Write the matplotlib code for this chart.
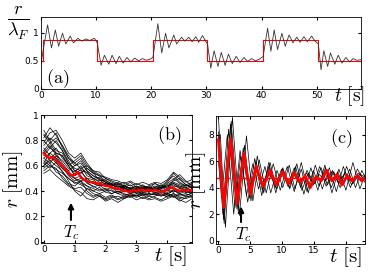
import matplotlib
matplotlib.use("Agg")
import matplotlib.pyplot as plt

plt.rcParams['mathtext.fontset'] = 'cm'
plt.rcParams['font.size'] = 6.5
plt.rcParams['xtick.direction'] = 'in'
plt.rcParams['ytick.direction'] = 'in'
plt.rcParams['xtick.top'] = True
plt.rcParams['ytick.right'] = True
plt.rcParams['xtick.major.size'] = 2
plt.rcParams['ytick.major.size'] = 2
plt.rcParams['axes.linewidth'] = 0.6

# ---- panel (a): step forcing and response ----
step_t = [0, 0.3, 0.3, 10.2, 10.2, 20.3, 20.3, 30.2, 30.2, 40.3, 40.3, 50.3, 50.3, 58]
step_r = [0.5, 0.5, 0.87, 0.87, 0.5, 0.5, 0.87, 0.87, 0.5, 0.5, 0.87, 0.87, 0.5, 0.5]

resp_t = [0, 0.5, 1.2, 1.9, 2.6, 3.2, 3.9, 4.5, 5.3, 5.9, 6.7, 7.4, 8.2, 8.8, 9.7, 10.2,
          10.9, 11.5, 12.3, 12.9, 13.6, 14.2, 14.9, 15.6, 16.3, 17.0, 17.7, 18.4, 19.1, 19.8, 20.3,
          21.2, 21.9, 22.6, 23.2, 24.1, 24.6, 25.5, 26.1, 26.8, 27.4, 28.1, 28.6, 29.3, 29.8, 30.2,
          30.8, 31.4, 32.1, 32.7, 33.4, 34.0, 34.7, 35.4, 36.1, 36.8, 37.5, 38.2, 38.9, 39.6, 40.3,
          41.1, 41.7, 42.3, 42.9, 43.7, 44.3, 45.0, 45.7, 46.4, 47.0, 47.7, 48.3, 49.1, 49.7, 50.3,
          50.8, 51.3, 52.0, 52.5, 53.3, 53.9, 54.6, 55.3, 56.0, 56.6, 57.3, 58.0]
resp_r = [0.45, 0.75, 1.14, 0.73, 1.05, 0.76, 0.99, 0.80, 0.94, 0.82, 0.90, 0.85, 0.89, 0.86, 0.90, 0.82,
          0.42, 0.60, 0.44, 0.60, 0.45, 0.58, 0.46, 0.56, 0.48, 0.55, 0.50, 0.54, 0.51, 0.53, 0.56,
          1.16, 0.64, 0.99, 0.73, 0.96, 0.80, 0.92, 0.85, 0.92, 0.84, 0.93, 0.83, 0.95, 0.86, 0.80,
          0.37, 0.68, 0.40, 0.65, 0.42, 0.62, 0.45, 0.58, 0.47, 0.56, 0.49, 0.54, 0.50, 0.53, 0.58,
          1.08, 0.67, 1.05, 0.70, 0.99, 0.76, 0.96, 0.82, 0.92, 0.83, 0.93, 0.84, 0.94, 0.85, 0.80,
          0.34, 0.68, 0.40, 0.64, 0.44, 0.60, 0.46, 0.56, 0.48, 0.54, 0.51, 0.52]

# ---- panel (b): individual runs and mean ----
tb = [0, 0.2, 0.4, 0.6, 0.8, 1.0, 1.2, 1.4, 1.6, 1.8, 2.0, 2.2, 2.4, 2.6, 2.8, 3.0,
      3.2, 3.4, 3.6, 3.8, 4.0, 4.2, 4.4, 4.6, 4.8]
runs_b = [
    [0.78, 0.86, 0.88, 0.80, 0.70, 0.66, 0.70, 0.62, 0.56, 0.55, 0.50, 0.48, 0.46, 0.44, 0.47, 0.43, 0.45, 0.42, 0.46, 0.44, 0.48, 0.52, 0.47, 0.44, 0.46],
    [0.62, 0.58, 0.63, 0.55, 0.50, 0.47, 0.45, 0.42, 0.40, 0.43, 0.39, 0.38, 0.40, 0.37, 0.38, 0.36, 0.39, 0.37, 0.38, 0.36, 0.39, 0.41, 0.37, 0.38, 0.36],
    [0.70, 0.76, 0.68, 0.64, 0.58, 0.55, 0.60, 0.52, 0.50, 0.47, 0.46, 0.44, 0.45, 0.42, 0.40, 0.42, 0.40, 0.41, 0.43, 0.40, 0.42, 0.45, 0.42, 0.40, 0.42],
    [0.85, 0.80, 0.72, 0.70, 0.62, 0.58, 0.56, 0.55, 0.50, 0.48, 0.49, 0.45, 0.43, 0.44, 0.41, 0.43, 0.41, 0.39, 0.42, 0.41, 0.40, 0.44, 0.43, 0.41, 0.40],
    [0.58, 0.62, 0.55, 0.52, 0.46, 0.44, 0.48, 0.40, 0.36, 0.38, 0.35, 0.37, 0.34, 0.36, 0.35, 0.37, 0.34, 0.36, 0.35, 0.33, 0.36, 0.38, 0.35, 0.34, 0.36],
    [0.66, 0.70, 0.74, 0.66, 0.60, 0.52, 0.55, 0.50, 0.49, 0.45, 0.44, 0.46, 0.41, 0.43, 0.39, 0.41, 0.43, 0.40, 0.42, 0.44, 0.43, 0.46, 0.44, 0.42, 0.43],
    [0.74, 0.68, 0.62, 0.58, 0.53, 0.50, 0.52, 0.46, 0.44, 0.41, 0.42, 0.40, 0.38, 0.40, 0.42, 0.38, 0.40, 0.42, 0.39, 0.40, 0.38, 0.40, 0.39, 0.41, 0.39],
    [0.60, 0.66, 0.70, 0.62, 0.56, 0.60, 0.64, 0.56, 0.52, 0.50, 0.47, 0.44, 0.46, 0.43, 0.45, 0.41, 0.43, 0.44, 0.41, 0.43, 0.45, 0.48, 0.50, 0.45, 0.43],
    [0.82, 0.90, 0.84, 0.76, 0.66, 0.62, 0.66, 0.58, 0.54, 0.52, 0.48, 0.46, 0.44, 0.42, 0.43, 0.40, 0.42, 0.44, 0.46, 0.42, 0.44, 0.47, 0.45, 0.43, 0.44],
    [0.56, 0.60, 0.58, 0.50, 0.45, 0.42, 0.43, 0.38, 0.35, 0.37, 0.33, 0.35, 0.36, 0.34, 0.37, 0.35, 0.37, 0.34, 0.36, 0.38, 0.35, 0.37, 0.34, 0.36, 0.35],
    [0.72, 0.64, 0.66, 0.60, 0.56, 0.50, 0.48, 0.50, 0.46, 0.44, 0.45, 0.42, 0.44, 0.41, 0.39, 0.40, 0.38, 0.40, 0.41, 0.39, 0.41, 0.43, 0.40, 0.39, 0.41],
    [0.68, 0.74, 0.80, 0.72, 0.64, 0.56, 0.58, 0.54, 0.50, 0.51, 0.47, 0.45, 0.43, 0.45, 0.42, 0.44, 0.42, 0.43, 0.40, 0.42, 0.44, 0.46, 0.43, 0.45, 0.42],
    [0.64, 0.60, 0.57, 0.54, 0.50, 0.46, 0.48, 0.44, 0.40, 0.38, 0.40, 0.41, 0.38, 0.36, 0.38, 0.39, 0.37, 0.38, 0.37, 0.36, 0.38, 0.36, 0.32, 0.35, 0.37],
    [0.76, 0.82, 0.78, 0.72, 0.62, 0.56, 0.54, 0.58, 0.54, 0.49, 0.45, 0.43, 0.41, 0.43, 0.40, 0.42, 0.44, 0.41, 0.43, 0.45, 0.42, 0.49, 0.53, 0.48, 0.44],
    [0.60, 0.64, 0.60, 0.56, 0.48, 0.40, 0.36, 0.42, 0.38, 0.36, 0.34, 0.36, 0.33, 0.35, 0.37, 0.36, 0.38, 0.36, 0.39, 0.37, 0.36, 0.38, 0.36, 0.37, 0.38],
    [0.80, 0.74, 0.70, 0.68, 0.60, 0.64, 0.68, 0.60, 0.56, 0.53, 0.50, 0.47, 0.45, 0.47, 0.44, 0.46, 0.44, 0.42, 0.44, 0.42, 0.46, 0.50, 0.46, 0.44, 0.45],
    [0.88, 0.80, 0.86, 0.74, 0.66, 0.60, 0.62, 0.56, 0.52, 0.49, 0.47, 0.45, 0.47, 0.44, 0.42, 0.44, 0.41, 0.43, 0.41, 0.43, 0.47, 0.54, 0.49, 0.45, 0.47],
    [0.54, 0.57, 0.52, 0.48, 0.44, 0.41, 0.39, 0.34, 0.33, 0.36, 0.32, 0.34, 0.31, 0.34, 0.36, 0.33, 0.35, 0.33, 0.34, 0.32, 0.34, 0.36, 0.33, 0.31, 0.34],
    [0.72, 0.78, 0.70, 0.68, 0.60, 0.53, 0.57, 0.48, 0.46, 0.44, 0.46, 0.43, 0.41, 0.44, 0.42, 0.40, 0.42, 0.39, 0.41, 0.43, 0.41, 0.39, 0.42, 0.43, 0.40],
    [0.66, 0.62, 0.68, 0.60, 0.52, 0.48, 0.50, 0.47, 0.43, 0.45, 0.41, 0.43, 0.39, 0.41, 0.38, 0.40, 0.39, 0.41, 0.38, 0.40, 0.37, 0.41, 0.38, 0.40, 0.38],
    [0.84, 0.78, 0.82, 0.76, 0.68, 0.62, 0.58, 0.60, 0.55, 0.52, 0.51, 0.49, 0.48, 0.46, 0.48, 0.45, 0.47, 0.45, 0.47, 0.46, 0.49, 0.55, 0.51, 0.47, 0.49],
    [0.62, 0.70, 0.66, 0.58, 0.54, 0.50, 0.46, 0.44, 0.42, 0.40, 0.41, 0.38, 0.40, 0.38, 0.36, 0.38, 0.36, 0.38, 0.37, 0.39, 0.37, 0.35, 0.38, 0.36, 0.39],
]
mean_tb = [0, 0.1, 0.2, 0.3, 0.4, 0.5, 0.6, 0.7, 0.8, 0.9, 1.0, 1.1, 1.2, 1.3, 1.4, 1.5, 1.6, 1.7,
           1.8, 1.9, 2.0, 2.1, 2.2, 2.3, 2.4, 2.5, 2.6, 2.7, 2.8, 2.9, 3.0, 3.1, 3.2, 3.3, 3.4,
           3.5, 3.6, 3.7, 3.8, 3.9, 4.0, 4.1, 4.2, 4.3, 4.4, 4.5, 4.6, 4.7, 4.8]
mean_rb = [0.70, 0.67, 0.66, 0.67, 0.64, 0.62, 0.60, 0.57, 0.54, 0.52, 0.53, 0.55, 0.51, 0.49, 0.48, 0.47,
           0.47, 0.46, 0.46, 0.45, 0.44, 0.44, 0.43, 0.42, 0.42, 0.41, 0.40, 0.40, 0.39, 0.41, 0.40,
           0.41, 0.41, 0.40, 0.41, 0.40, 0.41, 0.40, 0.39, 0.40, 0.41, 0.43, 0.42, 0.41, 0.40, 0.41,
           0.40, 0.41, 0.40]

# ---- panel (c): individual runs and mean ----
runs_c = [
    ([0, 0.8, 1.9, 2.9, 3.9, 4.9, 5.9, 6.9, 7.9, 8.9, 9.9, 10.9, 11.9, 12.9, 13.9, 14.9, 15.9, 16.9, 17.9, 18.9, 19.9, 20.9, 21.9, 23],
     [8.2, 1.6, 8.8, 2.4, 7.0, 3.2, 6.0, 3.8, 5.6, 4.0, 5.4, 4.1, 5.5, 4.0, 5.3, 4.2, 5.6, 4.1, 5.3, 4.3, 5.2, 4.2, 5.1, 4.8]),
    ([0, 0.3, 1.1, 2.2, 3.3, 4.4, 5.4, 6.4, 7.5, 8.6, 9.7, 10.8, 11.9, 13.0, 14.1, 15.2, 16.3, 17.4, 18.5, 19.6, 20.7, 21.8, 23],
     [7.0, 8.0, 1.0, 9.3, 1.9, 7.9, 3.0, 6.1, 3.6, 5.8, 3.8, 5.6, 3.7, 5.9, 3.6, 5.7, 3.9, 5.5, 3.7, 5.6, 4.0, 5.4, 4.4]),
    ([0, 0.9, 2.0, 3.1, 4.1, 5.1, 6.1, 7.1, 8.1, 9.1, 10.1, 11.1, 12.1, 13.1, 14.1, 15.1, 16.1, 17.1, 18.1, 19.1, 20.1, 21.1, 22.1, 23],
     [9.4, 1.3, 9.0, 2.2, 7.2, 3.0, 6.4, 3.6, 5.9, 3.9, 5.5, 4.0, 5.6, 3.8, 5.1, 4.3, 5.5, 4.2, 5.2, 4.0, 5.6, 4.3, 5.0, 4.6]),
    ([0, 0.8, 1.8, 2.8, 3.8, 4.8, 5.8, 6.8, 7.8, 8.8, 9.8, 10.8, 11.8, 12.8, 13.8, 14.8, 15.8, 16.8, 17.8, 18.8, 19.8, 20.8, 21.8, 22.8, 23],
     [6.6, 2.8, 7.4, 3.0, 6.3, 3.8, 5.4, 4.3, 5.1, 4.4, 5.0, 4.5, 5.0, 4.3, 5.1, 4.4, 5.0, 4.5, 5.2, 4.4, 5.0, 4.5, 4.9, 4.6, 4.7]),
    ([0, 0.7, 1.6, 2.6, 3.5, 4.4, 5.4, 6.3, 7.3, 8.2, 9.2, 10.1, 11.1, 12.0, 13.0, 13.9, 14.9, 15.8, 16.8, 17.7, 18.7, 19.6, 20.6, 21.5, 22.5, 23],
     [7.8, 2.0, 8.4, 2.5, 6.4, 3.4, 5.8, 3.9, 5.6, 3.6, 5.3, 4.0, 5.7, 3.9, 5.4, 3.7, 5.3, 4.1, 5.5, 4.0, 5.2, 4.2, 5.4, 4.0, 5.3, 4.8]),
    ([0, 0.5, 1.4, 2.4, 3.4, 4.6, 5.7, 6.8, 7.9, 9.0, 10.1, 11.2, 12.3, 13.4, 14.5, 15.6, 16.7, 17.8, 18.9, 20.0, 21.1, 22.2, 23],
     [6.0, 3.2, 8.0, 2.0, 6.8, 2.9, 6.2, 3.4, 5.9, 3.6, 5.4, 3.9, 5.8, 3.5, 5.5, 3.8, 5.7, 3.6, 5.4, 3.8, 5.9, 3.9, 5.0]),
]
mean_tc = [0, 0.4, 0.8, 1.35, 1.9, 2.4, 2.9, 3.45, 4.0, 4.5, 5.0, 5.45, 5.9, 6.45, 7.0, 7.55, 8.1,
           9.1, 10.1, 11.0, 11.9, 12.8, 13.6, 14.4, 15.3, 16.1, 17.0, 17.8, 18.6, 19.4, 20.2,
           21.0, 21.8, 22.5, 23.0]
mean_rc = [7.6, 5.0, 2.5, 5.1, 7.7, 5.3, 2.8, 4.7, 6.6, 5.0, 3.5, 4.5, 5.6, 4.8, 4.1, 4.7, 5.3,
           4.2, 5.2, 4.3, 5.1, 4.4, 4.9, 4.0, 4.8, 4.5, 5.3, 4.5, 5.0, 4.2, 4.9,
           4.5, 4.9, 4.5, 4.7]
r_mean_c = 4.75

fig = plt.figure(figsize=(3.74, 2.78), dpi=100)

# (a)
ax = fig.add_axes([0.1096, 0.680, 0.855, 0.259])
ax.plot(step_t, step_r, color='red', lw=0.8)
ax.plot(resp_t, resp_r, color='#333333', lw=0.6, solid_joinstyle='round')
ax.set_xlim(0, 58)
ax.set_ylim(0, 1.28)
ax.set_xticks([0, 10, 20, 30, 40, 50])
ax.set_yticks([0, 0.5, 1])
ax.set_yticklabels(['0', '0.5', '1'])
ax.tick_params(labelsize=6.5, pad=1.5)
ax.text(0.053, 0.15, r'$\mathrm{(a)}$', transform=ax.transAxes, fontsize=13, ha='center', va='center')
fig.text(0.05, 0.915, r'$\frac{r}{\lambda_F}$', fontsize=19, ha='center', va='center')
fig.text(0.935, 0.655, r'$t\ [\mathrm{s}]$', fontsize=14, ha='center', va='center')

# (b)
ax = fig.add_axes([0.1096, 0.126, 0.404, 0.46])
for run in runs_b:
    ax.plot(tb, run, color='black', lw=0.5)
ax.plot(mean_tb, mean_rb, color='red', lw=1.8)
ax.set_xlim(-0.09, 4.8)
ax.set_ylim(-0.01, 1.0)
ax.set_xticks([0, 1, 2, 3, 4])
ax.set_xticklabels(['0', '1', '2', '3', ''])
ax.set_yticks([0, 0.2, 0.4, 0.6, 0.8, 1])
ax.set_yticklabels(['0', '0.2', '0.4', '0.6', '0.8', '1'])
ax.tick_params(labelsize=6.5, pad=1.5)
ax.annotate('', xy=(0.88, 0.33), xytext=(0.88, 0.15),
            arrowprops=dict(arrowstyle='-|>', color='black', lw=1.5, mutation_scale=8))
ax.text(0.88, 0.075, r'$T_c$', fontsize=12, ha='center', va='center')
ax.text(4.05, 0.84, r'$\mathrm{(b)}$', fontsize=13, ha='center', va='center')
ax.set_ylabel(r'$r\ [\mathrm{mm}]$', fontsize=14, labelpad=0)
fig.text(0.455, 0.08, r'$t\ [\mathrm{s}]$', fontsize=15, ha='center', va='center')

# (c)
ax = fig.add_axes([0.578, 0.122, 0.398, 0.461])
for tt, rr in runs_c:
    ax.plot(tt, rr, color='black', lw=0.5)
ax.axhline(r_mean_c, color='red', lw=1.0, ls=(0, (4, 2)))
ax.plot(mean_tc, mean_rc, color='red', lw=2.0)
ax.set_xlim(-0.35, 23)
ax.set_ylim(-0.25, 9.4)
ax.set_xticks([0, 5, 10, 15, 20])
ax.set_xticklabels(['0', '5', '10', '15', ''])
ax.set_yticks([0, 2, 4, 6, 8])
ax.tick_params(labelsize=6.5, pad=1.5)
ax.annotate('', xy=(3.55, 2.8), xytext=(3.55, 1.2),
            arrowprops=dict(arrowstyle='-|>', color='black', lw=1.5, mutation_scale=8))
ax.text(3.9, 0.45, r'$T_c$', fontsize=12, ha='center', va='center')
ax.text(19.3, 7.7, r'$\mathrm{(c)}$', fontsize=13, ha='center', va='center')
ax.set_ylabel(r'$r\ [\mathrm{mm}]$', fontsize=14, labelpad=0)
fig.text(0.925, 0.075, r'$t\ [\mathrm{s}]$', fontsize=15, ha='center', va='center')

fig.savefig('out.png', dpi=100)
